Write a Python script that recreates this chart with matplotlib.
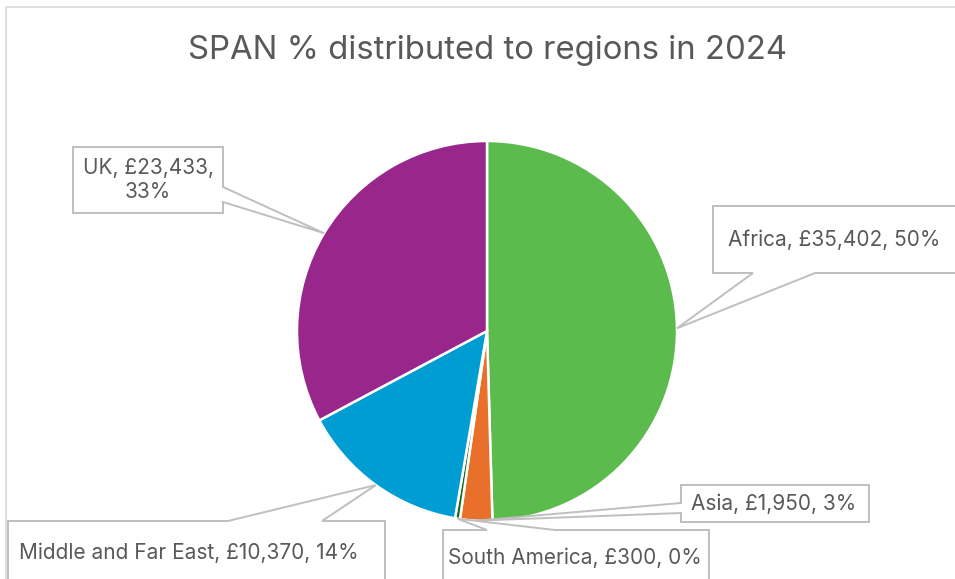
import matplotlib
matplotlib.use("Agg")
import matplotlib.pyplot as plt
from matplotlib.patches import Polygon, Rectangle
import numpy as np

# ---- data ----
regions = ["Africa", "Asia", "South America", "Middle and Far East", "UK"]
amounts = [35402, 1950, 300, 10370, 23433]
percent_labels = ["50%", "3%", "0%", "14%", "33%"]
colors = ["#5CBB4D", "#E8702A", "#196B24", "#009DD2", "#99268A"]
title = "SPAN % distributed to regions in 2024"

W, H = 955, 579
fig = plt.figure(figsize=(W / 100, H / 100), dpi=100)
fig.patch.set_facecolor("white")
renderer = fig.canvas.get_renderer()

# chart frame (cropped on right and bottom)
fig.add_artist(Rectangle((6 / W, -0.1), 1.2, 1 - 7 / H + 0.1, transform=fig.transFigure,
                         fill=False, edgecolor="#D9D9D9", linewidth=1.2))

# pie axes: centre (487,331) px from top, radius 190 px
cx, cy, R = 487, 331, 190
ax = fig.add_axes([(cx - R) / W, (H - cy - R) / H, 2 * R / W, 2 * R / H])
wedges, _ = ax.pie(amounts, colors=colors, startangle=90, counterclock=False,
                   radius=1, wedgeprops=dict(edgecolor="white", linewidth=1.8))
ax.set_xlim(-1, 1)
ax.set_ylim(-1, 1)
ax.set_aspect("equal")
ax.axis("off")

txt_color = "#595959"
font = ["Inter", "DejaVu Sans"]
fsize = 15

# title, sized to span ~600 px
t = fig.text(487 / W, 1 - 50 / H, title, ha="center", va="center", fontsize=24,
             color=txt_color, family=font)
w = t.get_window_extent(renderer).width
t.set_fontsize(24 * 600 / w)


def anchor(i):
    wd = wedges[i]
    mid = np.deg2rad((wd.theta1 + wd.theta2) / 2)
    px, py = ax.transData.transform((np.cos(mid), np.sin(mid)))
    return px, H - py


def to_fig(pts):
    return [(x / W, 1 - y / H) for x, y in pts]


def callout(box, side, a, b, tip):
    x0, y0, x1, y1 = box
    if side == "right":
        pts = [(x0, y0), (x1, y0), (x1, a), tip, (x1, b), (x1, y1), (x0, y1)]
    elif side == "left":
        pts = [(x0, y0), (x1, y0), (x1, y1), (x0, y1), (x0, b), tip, (x0, a)]
    elif side == "top":
        pts = [(x0, y0), (a, y0), tip, (b, y0), (x1, y0), (x1, y1), (x0, y1)]
    else:  # bottom
        pts = [(x0, y0), (x1, y0), (x1, y1), (b, y1), tip, (a, y1), (x0, y1)]
    fig.add_artist(Polygon(to_fig(pts), closed=True, transform=fig.transFigure,
                           facecolor="white", edgecolor="#BFBFBF", linewidth=1.4,
                           zorder=5))


def lab(i):
    return f"{regions[i]}, £{amounts[i]:,}, {percent_labels[i]}"


# Africa
callout((713, 206, 980, 273), "bottom", 753, 815, anchor(0))
fig.text(728 / W, 1 - 240 / H, lab(0), ha="left", va="center", fontsize=fsize,
         color=txt_color, family=font, zorder=6)
# Asia
callout((681, 485, 869, 522), "left", 503, 513, anchor(1))
fig.text(774 / W, 1 - 504 / H, lab(1), ha="center", va="center", fontsize=fsize,
         color=txt_color, family=font, zorder=6)
# South America
callout((443, 530, 709, 620), "top", 487, 555, anchor(2))
fig.text(575 / W, 1 - 558 / H, lab(2), ha="center", va="center", fontsize=fsize,
         color=txt_color, family=font, zorder=6)
# Middle and Far East
callout((8, 521, 385, 620), "top", 228, 322, anchor(3))
fig.text(19 / W, 1 - 553 / H, lab(3), ha="left", va="center", fontsize=fsize,
         color=txt_color, family=font, zorder=6)
# UK
callout((73, 147, 223, 213), "right", 187, 202, anchor(4))
fig.text(148 / W, 1 - 180 / H, f"{regions[4]}, £{amounts[4]:,},\n{percent_labels[4]}",
         ha="center", va="center", fontsize=fsize, color=txt_color, family=font,
         zorder=6, linespacing=1.3)

fig.savefig("out.png", dpi=100, facecolor="white")
